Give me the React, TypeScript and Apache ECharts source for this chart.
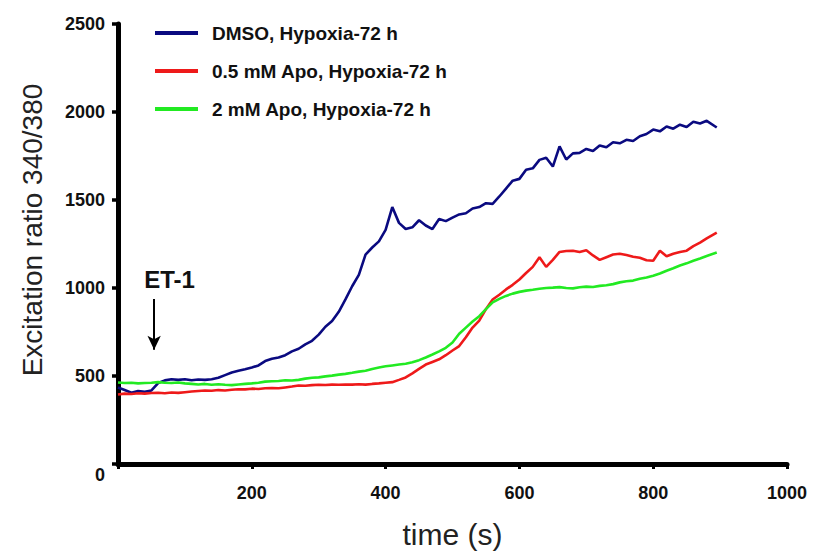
import React, { useEffect, useRef } from "react";
import * as echarts from "echarts";

const times = [
  0, 10, 20, 30, 40, 50, 60, 70, 80, 90,
  100, 110, 120, 130, 140, 150, 160, 170, 180, 190,
  200, 210, 220, 230, 240, 250, 260, 270, 280, 290,
  300, 310, 320, 330, 340, 350, 360, 370, 380, 390,
  400, 410, 420, 430, 440, 450, 460, 470, 480, 490,
  500, 510, 520, 530, 540, 550, 560, 570, 580, 590,
  600, 610, 620, 630, 640, 650, 660, 670, 680, 690,
  700, 710, 720, 730, 740, 750, 760, 770, 780, 790,
  800, 810, 820, 830, 840, 850, 860, 870, 880, 895,
];

const dmso = [
  435, 420, 405, 415, 410, 418, 460, 475, 482, 478,
  482, 476, 480, 478, 482, 490, 505, 520, 530, 538,
  548, 560, 585, 598, 605, 618, 640, 655, 680, 700,
  735, 780, 812, 865, 935, 1010, 1075, 1190, 1230, 1265,
  1330, 1460, 1370, 1335, 1345, 1385, 1355, 1335, 1392, 1380,
  1400, 1418, 1425, 1452, 1460, 1482, 1478, 1520, 1565, 1610,
  1620, 1672, 1680, 1728, 1740, 1690, 1805, 1730, 1765, 1768,
  1790, 1778, 1810, 1800, 1828, 1822, 1842, 1835, 1862, 1875,
  1900, 1890, 1918, 1905, 1928, 1915, 1945, 1935, 1950, 1912,
];

const apo05 = [
  395, 400, 398, 402, 400, 403, 405, 402, 406, 404,
  408, 412, 415, 418, 416, 420, 418, 422, 425, 424,
  428, 426, 430, 432, 430, 435, 440, 446, 445, 448,
  450, 449, 451, 450, 452, 451, 453, 451, 455, 458,
  462, 465, 478, 492, 515, 540, 565, 580, 595, 618,
  645, 670, 720, 775, 815, 880, 935, 962, 992, 1018,
  1048, 1085, 1120, 1175, 1120, 1160, 1205, 1210, 1212, 1205,
  1215, 1185, 1160, 1175, 1190, 1195, 1188, 1178, 1172, 1158,
  1155, 1212, 1180, 1195, 1205, 1212, 1238, 1258, 1282, 1315,
];

const apo2 = [
  463, 460, 462, 458, 460, 462, 465, 462, 460, 463,
  458, 455, 452, 455, 450, 453, 450, 448, 452, 455,
  458, 462, 468, 470, 472, 476, 474, 478, 485, 490,
  492, 498, 502, 508, 512, 518, 525, 530, 540, 548,
  555, 560, 565, 570, 578, 590, 605, 622, 640, 660,
  690, 740, 775, 810, 840, 880, 918, 938, 955, 968,
  978, 985, 990, 996, 1000, 1002, 1005, 1000, 998, 1004,
  1008, 1006, 1012, 1016, 1022, 1032, 1038, 1042, 1052, 1060,
  1070, 1082, 1098, 1112, 1128, 1140, 1155, 1168, 1182, 1202,
];

const seriesNames = [
  "DMSO, Hypoxia-72 h",
  "0.5 mM Apo, Hypoxia-72 h",
  "2 mM Apo, Hypoxia-72 h",
];
const seriesColors = ["#0a0a80", "#ee1a1a", "#22ea22"];

const xTicks = { min: 0, max: 1000, interval: 200 };
const yTicks = { min: 0, max: 2500, interval: 500 };

const annotationText = "ET-1";
const annotationArrow = { time: 54, from: 937, to: 649 };
const annotationLabel = { time: 77, value: 1050 };

const FONT = "Arial, 'Liberation Sans', Helvetica, sans-serif";

function pairs(values: number[]) {
  return values.map((v, i) => [times[i], v]);
}

export default function App() {
  const ref = useRef<HTMLDivElement>(null);

  useEffect(() => {
    if (!ref.current) return;
    const chart = echarts.init(ref.current, null, { renderer: "svg" });
    const allValues = [dmso, apo05, apo2];
    const series: any[] = allValues.map((vals, i) => ({
      name: seriesNames[i],
      type: "line",
      data: pairs(vals),
      showSymbol: false,
      symbol: "none",
      lineStyle: { color: seriesColors[i], width: 2.6 },
      itemStyle: { color: seriesColors[i] },
      z: 2 + i,
    }));
    series[0].markLine = {
      silent: true,
      symbol: ["none", "arrow"],
      symbolSize: [10, 14],
      lineStyle: { color: "#000", width: 2, type: "solid" },
      label: { show: false },
      data: [
        [
          { coord: [annotationArrow.time, annotationArrow.from] },
          { coord: [annotationArrow.time, annotationArrow.to] },
        ],
      ],
    };
    series[0].markPoint = {
      silent: true,
      symbol: "circle",
      symbolSize: 1,
      itemStyle: { color: "rgba(0,0,0,0)" },
      label: {
        show: true,
        position: "inside",
        formatter: annotationText,
        color: "#111",
        fontWeight: "bold",
        fontSize: 24,
        fontFamily: FONT,
      },
      data: [{ coord: [annotationLabel.time, annotationLabel.value] }],
    };

    chart.setOption({
      animation: false,
      backgroundColor: "#ffffff",
      grid: { left: 118, right: 33, top: 24, bottom: 87, containLabel: false },
      legend: {
        show: true,
        orient: "vertical",
        left: 150,
        top: 17,
        icon: "rect",
        itemWidth: 43,
        itemHeight: 4,
        itemGap: 16,
        data: seriesNames,
        textStyle: {
          color: "#111",
          fontWeight: "bold",
          fontSize: 19,
          fontFamily: FONT,
          lineHeight: 22,
          padding: [0, 0, 0, 9],
        },
      },
      xAxis: {
        type: "value",
        min: xTicks.min,
        max: xTicks.max,
        interval: xTicks.interval,
        name: "time (s)",
        nameLocation: "middle",
        nameGap: 55,
        nameTextStyle: { color: "#222", fontSize: 30, fontFamily: FONT },
        axisLine: { show: true, onZero: false, lineStyle: { color: "#000", width: 5 } },
        axisTick: { show: true, length: 5, lineStyle: { color: "#000", width: 3 } },
        splitLine: { show: false },
        axisLabel: {
          margin: 20,
          color: "#111",
          fontWeight: "bold",
          fontSize: 18,
          fontFamily: FONT,
          formatter: (v: number) => (v === 0 ? "" : String(v)),
        },
      },
      yAxis: {
        type: "value",
        min: yTicks.min,
        max: yTicks.max,
        interval: yTicks.interval,
        name: "Excitation ratio 340/380",
        nameLocation: "middle",
        nameGap: 72,
        nameTextStyle: {
          color: "#222",
          fontSize: 28,
          fontFamily: FONT,
          padding: [0, 0, 0, 28],
        },
        axisLine: { show: true, lineStyle: { color: "#000", width: 5 } },
        axisTick: { show: true, length: 6, lineStyle: { color: "#000", width: 3.5 } },
        splitLine: { show: false },
        axisLabel: {
          margin: 13,
          color: "#111",
          fontWeight: "bold",
          fontSize: 18,
          fontFamily: FONT,
          formatter: (v: number) => (v === 0 ? "{z|0}" : String(v)),
          rich: {
            z: {
              color: "#111",
              fontWeight: "bold",
              fontSize: 18,
              fontFamily: FONT,
              padding: [22, 0, 0, 0],
            },
          },
        },
      },
      series,
    });
    return () => chart.dispose();
  }, []);

  return (
    <div
      ref={ref}
      style={{ position: "fixed", left: 0, top: 0, width: 820, height: 554, background: "#fff" }}
    />
  );
}
